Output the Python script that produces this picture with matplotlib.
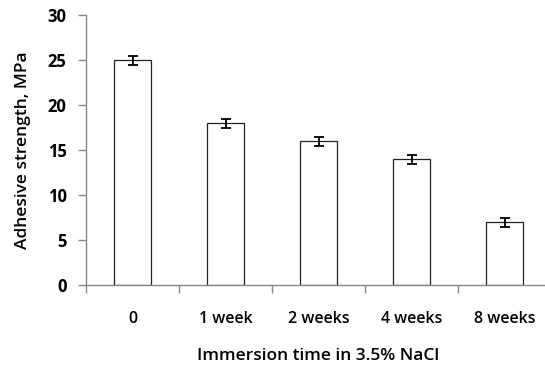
import matplotlib
matplotlib.use('Agg')
import matplotlib.pyplot as plt
import numpy as np

# data
categories = ['0', '1 week', '2 weeks', '4 weeks', '8 weeks']
strength = [25, 18, 16, 14, 7]
errors = [0.5, 0.5, 0.5, 0.5, 0.5]

plt.rcParams['font.family'] = ['Open Sans', 'DejaVu Sans']

fig = plt.figure(figsize=(5.45, 3.65), dpi=100)
ax = fig.add_axes([86/545, 80/365, 465/545, 270/365])

x = np.arange(len(categories))
ax.bar(x, strength, width=0.4, color='white', edgecolor='#222222', linewidth=0.9,
       yerr=errors, capsize=3.5, error_kw=dict(ecolor='black', elinewidth=1.3, capthick=1.3))

ax.set_xlim(-0.5, len(categories) - 0.5)
ax.set_ylim(0, 30)
ax.set_yticks(range(0, 31, 5))
ax.set_xticks(x)
ax.set_xticklabels(categories, fontsize=11.5, fontweight='semibold')
ax.set_xticks(np.arange(-0.5, len(categories), 1), minor=True)
ax.tick_params(axis='x', which='major', length=0, pad=19)
ax.tick_params(axis='x', which='minor', length=6, color='#888888', width=1)
ax.tick_params(axis='y', length=6, color='#888888', width=1, labelsize=12, pad=8)
for lab in ax.get_yticklabels():
    lab.set_fontweight('bold')

for s in ['top', 'right']:
    ax.spines[s].set_visible(False)
for s in ['left', 'bottom']:
    ax.spines[s].set_color('#888888')
    ax.spines[s].set_linewidth(1)

ax.set_ylabel('Adhesive strength, MPa', fontsize=12.5, fontweight='semibold', labelpad=12)
ax.set_xlabel('Immersion time in 3.5% NaCl', fontsize=12.5, fontweight='semibold', labelpad=15)

fig.savefig('out.png', dpi=100)
